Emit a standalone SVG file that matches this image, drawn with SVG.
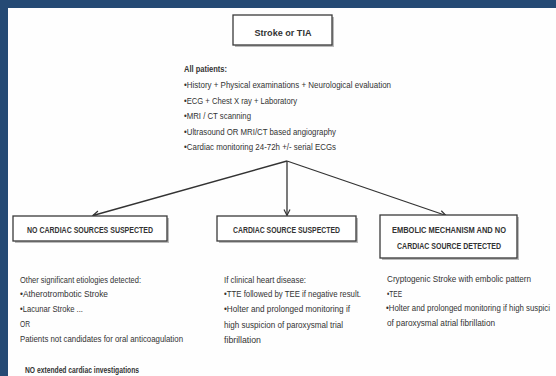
<svg xmlns="http://www.w3.org/2000/svg" width="556" height="376" viewBox="0 0 556 376">
<defs>
<style>
text{font-family:"Liberation Sans",Arial,sans-serif;fill:#333;font-size:9px}
.b{font-weight:bold}
.box{fill:#fff;stroke:#3a3a3a;stroke-width:1.3}
.sh{fill:#bbb}
.c{stroke:#333;stroke-width:1.3;fill:none}
.h{font-size:9.5px;font-weight:bold;text-anchor:middle}
</style>
<marker id="ar" markerWidth="8" markerHeight="8" refX="7" refY="4" orient="auto" markerUnits="userSpaceOnUse">
<path d="M1,1 L7,4 L1,7" fill="none" stroke="#333" stroke-width="1.2"/>
</marker>
</defs>
<rect width="556" height="376" fill="#254a74"/>
<rect x="8" y="8" width="548" height="368" fill="#fefefe"/>

<g id="stroke">
<rect class="sh" x="235" y="17" width="99" height="30"/>
<rect class="box" x="233" y="15" width="99" height="30"/>
<text x="283" y="36" font-size="12" font-weight="bold" text-anchor="middle" textLength="57" lengthAdjust="spacingAndGlyphs">Stroke or TIA</text>
</g>

<g id="all-patients">
<text class="b" x="184" y="72" textLength="43" lengthAdjust="spacingAndGlyphs">All patients:</text>
<text x="184" y="88" textLength="207" lengthAdjust="spacingAndGlyphs">•History + Physical examinations + Neurological evaluation</text>
<text x="184" y="104" textLength="113" lengthAdjust="spacingAndGlyphs">•ECG + Chest X ray + Laboratory</text>
<text x="184" y="119" textLength="67" lengthAdjust="spacingAndGlyphs">•MRI / CT scanning</text>
<text x="184" y="135" textLength="152" lengthAdjust="spacingAndGlyphs">•Ultrasound OR MRI/CT based angiography</text>
<text x="184" y="150" textLength="152" lengthAdjust="spacingAndGlyphs">•Cardiac monitoring 24-72h +/- serial ECGs</text>
</g>

<g id="connectors">
<line class="c" x1="287" y1="161" x2="93" y2="215.5" marker-end="url(#ar)"/>
<line class="c" x1="287" y1="161" x2="287" y2="215.5" marker-end="url(#ar)"/>
<line class="c" x1="287" y1="161" x2="446" y2="215.5" marker-end="url(#ar)"/>
</g>

<g id="no-cardiac">
<rect class="sh" x="15" y="218" width="154" height="25"/>
<rect class="box" x="13" y="216" width="154" height="25"/>
<text class="h" x="90" y="232.5" textLength="126" lengthAdjust="spacingAndGlyphs">NO CARDIAC SOURCES SUSPECTED</text>
<text x="20" y="283" textLength="121" lengthAdjust="spacingAndGlyphs">Other significant etiologies detected:</text>
<text x="20" y="297" textLength="88" lengthAdjust="spacingAndGlyphs">•Atherotrombotic Stroke</text>
<text x="20" y="312" textLength="63" lengthAdjust="spacingAndGlyphs">•Lacunar Stroke ...</text>
<text x="20" y="327" textLength="10" lengthAdjust="spacingAndGlyphs">OR</text>
<text x="20" y="342" textLength="163" lengthAdjust="spacingAndGlyphs">Patients not candidates for oral anticoagulation</text>
<text class="b" x="25" y="373" textLength="114" lengthAdjust="spacingAndGlyphs">NO extended cardiac investigations</text>
</g>

<g id="cardiac">
<rect class="sh" x="219" y="218" width="139" height="25"/>
<rect class="box" x="217" y="216" width="139" height="25"/>
<text class="h" x="286.5" y="232.5" textLength="107" lengthAdjust="spacingAndGlyphs">CARDIAC SOURCE SUSPECTED</text>
<text x="224" y="283" textLength="82" lengthAdjust="spacingAndGlyphs">If clinical heart disease:</text>
<text x="224" y="297" textLength="137" lengthAdjust="spacingAndGlyphs">•TTE followed by TEE if negative result.</text>
<text x="224" y="312" textLength="126" lengthAdjust="spacingAndGlyphs">•Holter and prolonged monitoring if</text>
<text x="224" y="328" textLength="119" lengthAdjust="spacingAndGlyphs">high suspicion of paroxysmal trial</text>
<text x="224" y="343" textLength="37" lengthAdjust="spacingAndGlyphs">fibrillation</text>
</g>

<g id="embolic">
<rect class="sh" x="382" y="217" width="137" height="43"/>
<rect class="box" x="380" y="215" width="137" height="43"/>
<text class="h" x="449" y="233" textLength="114" lengthAdjust="spacingAndGlyphs">EMBOLIC MECHANISM AND NO</text>
<text class="h" x="449" y="249" textLength="104" lengthAdjust="spacingAndGlyphs">CARDIAC SOURCE DETECTED</text>
<text x="387" y="282" textLength="144" lengthAdjust="spacingAndGlyphs">Cryptogenic Stroke with embolic pattern</text>
<text x="387" y="297" textLength="15" lengthAdjust="spacingAndGlyphs">•TEE</text>
<text x="386" y="311" font-size="7.6" textLength="164" lengthAdjust="spacingAndGlyphs">•Holter and prolonged monitoring if high suspici</text>
<text x="387" y="326" textLength="108" lengthAdjust="spacingAndGlyphs">of paroxysmal atrial fibrillation</text>
</g>
</svg>
